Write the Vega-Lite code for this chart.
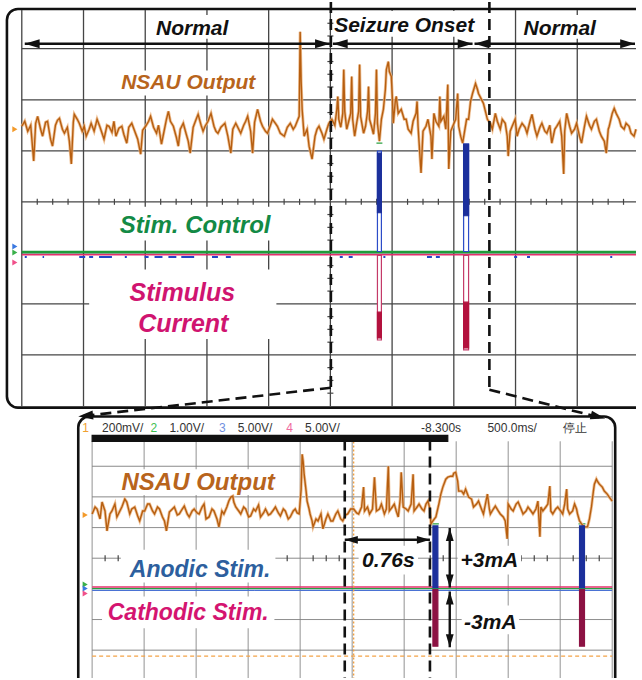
{
  "$schema": "https://vega.github.io/schema/vega-lite/v6.json",
  "width": 642,
  "height": 680,
  "padding": 0,
  "autosize": {"type": "fit", "contains": "padding"},
  "background": "white",
  "config": {"view": {"stroke": null}},
  "datasets": {
    "frames": [
      {"x": 7, "y": 7, "x2": 660, "y2": 408},
      {"x": 79, "y": 417, "x2": 621, "y2": 700}
    ],
    "segs": [
      {"x": 22, "y": 8, "x2": 22, "y2": 407, "k": "g1"},
      {"x": 84.3, "y": 8, "x2": 84.3, "y2": 407, "k": "g1"},
      {"x": 146.6, "y": 8, "x2": 146.6, "y2": 407, "k": "g1"},
      {"x": 208.9, "y": 8, "x2": 208.9, "y2": 407, "k": "g1"},
      {"x": 271.2, "y": 8, "x2": 271.2, "y2": 407, "k": "g1"},
      {"x": 333.5, "y": 8, "x2": 333.5, "y2": 407, "k": "g1"},
      {"x": 395.8, "y": 8, "x2": 395.8, "y2": 407, "k": "g1"},
      {"x": 458.1, "y": 8, "x2": 458.1, "y2": 407, "k": "g1"},
      {"x": 520.4, "y": 8, "x2": 520.4, "y2": 407, "k": "g1"},
      {"x": 582.7, "y": 8, "x2": 582.7, "y2": 407, "k": "g1"},
      {"x": 22, "y": 47, "x2": 642, "y2": 47, "k": "g1"},
      {"x": 22, "y": 98.4, "x2": 642, "y2": 98.4, "k": "g1"},
      {"x": 22, "y": 149.7, "x2": 642, "y2": 149.7, "k": "g1"},
      {"x": 22, "y": 201, "x2": 642, "y2": 201, "k": "g1"},
      {"x": 22, "y": 252.3, "x2": 642, "y2": 252.3, "k": "g1"},
      {"x": 22, "y": 303.6, "x2": 642, "y2": 303.6, "k": "g1"},
      {"x": 22, "y": 355, "x2": 642, "y2": 355, "k": "g1"},
      {"x": 93, "y": 442, "x2": 93, "y2": 680, "k": "g2"},
      {"x": 145.5, "y": 442, "x2": 145.5, "y2": 680, "k": "g2"},
      {"x": 198, "y": 442, "x2": 198, "y2": 680, "k": "g2"},
      {"x": 250.5, "y": 442, "x2": 250.5, "y2": 680, "k": "g2"},
      {"x": 303, "y": 442, "x2": 303, "y2": 680, "k": "g2"},
      {"x": 355.5, "y": 442, "x2": 355.5, "y2": 680, "k": "g2"},
      {"x": 408, "y": 442, "x2": 408, "y2": 680, "k": "g2"},
      {"x": 460.5, "y": 442, "x2": 460.5, "y2": 680, "k": "g2"},
      {"x": 513, "y": 442, "x2": 513, "y2": 680, "k": "g2"},
      {"x": 565.5, "y": 442, "x2": 565.5, "y2": 680, "k": "g2"},
      {"x": 618, "y": 442, "x2": 618, "y2": 680, "k": "g2"},
      {"x": 93, "y": 467, "x2": 618, "y2": 467, "k": "g2"},
      {"x": 93, "y": 497.8, "x2": 618, "y2": 497.8, "k": "g2"},
      {"x": 93, "y": 528.7, "x2": 618, "y2": 528.7, "k": "g2"},
      {"x": 93, "y": 559.5, "x2": 618, "y2": 559.5, "k": "g2"},
      {"x": 93, "y": 621.2, "x2": 618, "y2": 621.2, "k": "g2"},
      {"x": 93, "y": 652, "x2": 618, "y2": 652, "k": "g2"},
      {"x": 22, "y": 251.5, "x2": 642, "y2": 251.5, "k": "green"},
      {"x": 468, "y": 143, "x2": 468, "y2": 251.5, "k": "gt"},
      {"x": 380, "y": 142, "x2": 386, "y2": 142, "k": "gt"},
      {"x": 93, "y": 590, "x2": 618, "y2": 590, "k": "gt"},
      {"x": 436, "y": 525, "x2": 443, "y2": 525, "k": "gt"},
      {"x": 584, "y": 525, "x2": 591, "y2": 525, "k": "gt"},
      {"x": 22, "y": 254.3, "x2": 642, "y2": 254.3, "k": "red"},
      {"x": 93, "y": 588.4, "x2": 618, "y2": 588.4, "k": "red"},
      {"x": 93, "y": 591.8, "x2": 618, "y2": 591.8, "k": "blue"},
      {"x": 25, "y": 256.5, "x2": 27, "y2": 256.5, "k": "bs"},
      {"x": 43, "y": 256.5, "x2": 44.5, "y2": 256.5, "k": "bs"},
      {"x": 80, "y": 256.5, "x2": 86, "y2": 256.5, "k": "bs"},
      {"x": 90, "y": 256.5, "x2": 94, "y2": 256.5, "k": "bs"},
      {"x": 100, "y": 256.5, "x2": 113, "y2": 256.5, "k": "bs"},
      {"x": 126, "y": 256.5, "x2": 128, "y2": 256.5, "k": "bs"},
      {"x": 146, "y": 256.5, "x2": 150, "y2": 256.5, "k": "bs"},
      {"x": 156, "y": 256.5, "x2": 164, "y2": 256.5, "k": "bs"},
      {"x": 170, "y": 256.5, "x2": 178, "y2": 256.5, "k": "bs"},
      {"x": 183, "y": 256.5, "x2": 196, "y2": 256.5, "k": "bs"},
      {"x": 214, "y": 256.5, "x2": 220, "y2": 256.5, "k": "bs"},
      {"x": 228, "y": 256.5, "x2": 233, "y2": 256.5, "k": "bs"},
      {"x": 343, "y": 256.5, "x2": 346, "y2": 256.5, "k": "bs"},
      {"x": 352, "y": 256.5, "x2": 356, "y2": 256.5, "k": "bs"},
      {"x": 387, "y": 256.5, "x2": 389, "y2": 256.5, "k": "bs"},
      {"x": 431, "y": 256.5, "x2": 436, "y2": 256.5, "k": "bs"},
      {"x": 440, "y": 256.5, "x2": 444, "y2": 256.5, "k": "bs"},
      {"x": 519, "y": 256.5, "x2": 522, "y2": 256.5, "k": "bs"},
      {"x": 532, "y": 256.5, "x2": 535, "y2": 256.5, "k": "bs"},
      {"x": 616, "y": 256.5, "x2": 618, "y2": 256.5, "k": "bs"},
      {"x": 93, "y": 658, "x2": 618, "y2": 658, "k": "odash"},
      {"x": 357, "y": 442, "x2": 357, "y2": 680, "k": "odot"},
      {"x": 25, "y": 42, "x2": 333, "y2": 42, "k": "arrow"},
      {"x": 336, "y": 42, "x2": 477, "y2": 42, "k": "arrow"},
      {"x": 479, "y": 42, "x2": 641, "y2": 42, "k": "arrow"},
      {"x": 348, "y": 541, "x2": 434, "y2": 541, "k": "arrow"},
      {"x": 454, "y": 529, "x2": 454, "y2": 589, "k": "arrow"},
      {"x": 454, "y": 593, "x2": 454, "y2": 649, "k": "arrow"},
      {"x": 334, "y": 0, "x2": 334, "y2": 388, "k": "dash"},
      {"x": 334, "y": 388, "x2": 84, "y2": 416.5, "k": "dash"},
      {"x": 494, "y": 0, "x2": 494, "y2": 390, "k": "dash"},
      {"x": 494, "y": 390, "x2": 606, "y2": 418, "k": "dash"},
      {"x": 348, "y": 440, "x2": 348, "y2": 680, "k": "dash"},
      {"x": 434, "y": 440, "x2": 434, "y2": 680, "k": "dash"}
    ],
    "ticks": [
      {"x": 37.6, "y": 201, "o": "h"}, {"x": 53.2, "y": 201, "o": "h"}, {"x": 68.7, "y": 201, "o": "h"},
      {"x": 99.9, "y": 201, "o": "h"}, {"x": 115.5, "y": 201, "o": "h"}, {"x": 131, "y": 201, "o": "h"},
      {"x": 162.2, "y": 201, "o": "h"}, {"x": 177.8, "y": 201, "o": "h"}, {"x": 193.3, "y": 201, "o": "h"},
      {"x": 224.5, "y": 201, "o": "h"}, {"x": 240.1, "y": 201, "o": "h"}, {"x": 255.6, "y": 201, "o": "h"},
      {"x": 286.8, "y": 201, "o": "h"}, {"x": 302.4, "y": 201, "o": "h"}, {"x": 317.9, "y": 201, "o": "h"},
      {"x": 349.1, "y": 201, "o": "h"}, {"x": 364.7, "y": 201, "o": "h"}, {"x": 380.2, "y": 201, "o": "h"},
      {"x": 411.4, "y": 201, "o": "h"}, {"x": 427, "y": 201, "o": "h"}, {"x": 442.5, "y": 201, "o": "h"},
      {"x": 473.7, "y": 201, "o": "h"}, {"x": 489.3, "y": 201, "o": "h"}, {"x": 504.8, "y": 201, "o": "h"},
      {"x": 536, "y": 201, "o": "h"}, {"x": 551.6, "y": 201, "o": "h"}, {"x": 567.1, "y": 201, "o": "h"},
      {"x": 598.3, "y": 201, "o": "h"}, {"x": 613.9, "y": 201, "o": "h"}, {"x": 629.4, "y": 201, "o": "h"},
      {"x": 333.5, "y": 21.4, "o": "v"}, {"x": 333.5, "y": 34.2, "o": "v"}, {"x": 333.5, "y": 59.9, "o": "v"},
      {"x": 333.5, "y": 72.7, "o": "v"}, {"x": 333.5, "y": 85.5, "o": "v"}, {"x": 333.5, "y": 111.2, "o": "v"},
      {"x": 333.5, "y": 124, "o": "v"}, {"x": 333.5, "y": 136.9, "o": "v"}, {"x": 333.5, "y": 162.5, "o": "v"},
      {"x": 333.5, "y": 175.3, "o": "v"}, {"x": 333.5, "y": 188.2, "o": "v"}, {"x": 333.5, "y": 213.8, "o": "v"},
      {"x": 333.5, "y": 226.7, "o": "v"}, {"x": 333.5, "y": 239.5, "o": "v"}, {"x": 333.5, "y": 265.2, "o": "v"},
      {"x": 333.5, "y": 278, "o": "v"}, {"x": 333.5, "y": 290.8, "o": "v"}, {"x": 333.5, "y": 316.5, "o": "v"},
      {"x": 333.5, "y": 329.3, "o": "v"}, {"x": 333.5, "y": 342.2, "o": "v"}, {"x": 333.5, "y": 367.8, "o": "v"},
      {"x": 333.5, "y": 380.7, "o": "v"}, {"x": 333.5, "y": 393.5, "o": "v"},
      {"x": 106.1, "y": 559.5, "o": "h"}, {"x": 119.3, "y": 559.5, "o": "h"}, {"x": 132.4, "y": 559.5, "o": "h"},
      {"x": 158.6, "y": 559.5, "o": "h"}, {"x": 171.8, "y": 559.5, "o": "h"}, {"x": 184.9, "y": 559.5, "o": "h"},
      {"x": 211.1, "y": 559.5, "o": "h"}, {"x": 224.3, "y": 559.5, "o": "h"}, {"x": 237.4, "y": 559.5, "o": "h"},
      {"x": 263.6, "y": 559.5, "o": "h"}, {"x": 276.8, "y": 559.5, "o": "h"}, {"x": 289.9, "y": 559.5, "o": "h"},
      {"x": 316.1, "y": 559.5, "o": "h"}, {"x": 329.3, "y": 559.5, "o": "h"}, {"x": 342.4, "y": 559.5, "o": "h"},
      {"x": 368.6, "y": 559.5, "o": "h"}, {"x": 381.8, "y": 559.5, "o": "h"}, {"x": 394.9, "y": 559.5, "o": "h"},
      {"x": 421.1, "y": 559.5, "o": "h"}, {"x": 434.3, "y": 559.5, "o": "h"}, {"x": 447.4, "y": 559.5, "o": "h"},
      {"x": 473.6, "y": 559.5, "o": "h"}, {"x": 486.8, "y": 559.5, "o": "h"}, {"x": 499.9, "y": 559.5, "o": "h"},
      {"x": 526.1, "y": 559.5, "o": "h"}, {"x": 539.3, "y": 559.5, "o": "h"}, {"x": 552.4, "y": 559.5, "o": "h"},
      {"x": 578.6, "y": 559.5, "o": "h"}, {"x": 591.8, "y": 559.5, "o": "h"}, {"x": 604.9, "y": 559.5, "o": "h"}
    ],
    "boxes": [
      {"x": 152, "y": 13, "x2": 236, "y2": 37, "k": "white"},
      {"x": 338, "y": 9, "x2": 479, "y2": 35, "k": "white"},
      {"x": 525, "y": 13, "x2": 605, "y2": 37, "k": "white"},
      {"x": 118, "y": 69, "x2": 262, "y2": 94, "k": "white"},
      {"x": 112, "y": 206, "x2": 283, "y2": 240, "k": "white"},
      {"x": 90, "y": 269, "x2": 279, "y2": 339, "k": "white"},
      {"x": 112, "y": 470, "x2": 290, "y2": 496, "k": "white"},
      {"x": 122, "y": 551, "x2": 278, "y2": 584, "k": "white"},
      {"x": 103, "y": 598, "x2": 277, "y2": 630, "k": "white"},
      {"x": 362, "y": 547, "x2": 422, "y2": 576, "k": "white"},
      {"x": 462, "y": 547, "x2": 526, "y2": 576, "k": "white"},
      {"x": 466, "y": 607, "x2": 524, "y2": 636, "k": "white"}
    ],
    "pulses": [
      {"x": 381, "y": 150, "x2": 385, "y2": 251, "k": "outB"},
      {"x": 468, "y": 143, "x2": 473, "y2": 251, "k": "outB"},
      {"x": 381, "y": 255, "x2": 385, "y2": 340, "k": "outR"},
      {"x": 468, "y": 255, "x2": 473, "y2": 350, "k": "outR"},
      {"x": 381, "y": 152, "x2": 385, "y2": 212, "k": "fillB"},
      {"x": 468, "y": 143, "x2": 473, "y2": 215, "k": "fillB"},
      {"x": 381, "y": 312, "x2": 385, "y2": 338, "k": "fillR"},
      {"x": 468, "y": 302, "x2": 473, "y2": 348, "k": "fillR"},
      {"x": 437, "y": 527, "x2": 442, "y2": 589, "k": "fillB"},
      {"x": 585, "y": 527, "x2": 590, "y2": 589, "k": "fillB"},
      {"x": 437, "y": 591, "x2": 442, "y2": 648, "k": "fillM"},
      {"x": 585, "y": 591, "x2": 590, "y2": 648, "k": "fillM"},
      {"x": 93, "y": 436, "x2": 452, "y2": 442, "k": "bar"}
    ],
    "heads": [
      {"x": 25, "y": 42, "a": 270, "k": "a1"},
      {"x": 333, "y": 42, "a": 90, "k": "a1"},
      {"x": 336, "y": 42, "a": 270, "k": "a1"},
      {"x": 477, "y": 42, "a": 90, "k": "a1"},
      {"x": 479, "y": 42, "a": 270, "k": "a1"},
      {"x": 641, "y": 42, "a": 90, "k": "a1"},
      {"x": 79, "y": 417, "a": 264, "k": "a1"},
      {"x": 611, "y": 419, "a": 104, "k": "a1"},
      {"x": 348, "y": 541, "a": 270, "k": "a2"},
      {"x": 434, "y": 541, "a": 90, "k": "a2"},
      {"x": 454, "y": 529, "a": 0, "k": "a2"},
      {"x": 454, "y": 589, "a": 180, "k": "a2"},
      {"x": 454, "y": 593, "a": 0, "k": "a2"},
      {"x": 454, "y": 649, "a": 180, "k": "a2"}
    ],
    "grounds": [
      {"x": 15, "y": 128, "k": "o"},
      {"x": 15, "y": 246, "k": "b"},
      {"x": 15, "y": 252, "k": "g"},
      {"x": 15, "y": 262, "k": "r"},
      {"x": 86, "y": 516, "k": "o"},
      {"x": 86, "y": 586, "k": "g"},
      {"x": 86, "y": 590, "k": "b"},
      {"x": 86, "y": 595, "k": "r"}
    ],
    "trace": [
      {"s": "top", "x": 22, "y": 125}, {"s": "top", "x": 25, "y": 120}, {"s": "top", "x": 28, "y": 130}, {"s": "top", "x": 31, "y": 124},
      {"s": "top", "x": 34, "y": 160}, {"s": "top", "x": 36, "y": 122}, {"s": "top", "x": 38, "y": 115}, {"s": "top", "x": 41, "y": 128},
      {"s": "top", "x": 43, "y": 135}, {"s": "top", "x": 46, "y": 121}, {"s": "top", "x": 48, "y": 120}, {"s": "top", "x": 51, "y": 138},
      {"s": "top", "x": 53, "y": 145}, {"s": "top", "x": 56, "y": 124}, {"s": "top", "x": 58, "y": 119}, {"s": "top", "x": 60, "y": 117},
      {"s": "top", "x": 63, "y": 128}, {"s": "top", "x": 65, "y": 132}, {"s": "top", "x": 68, "y": 126}, {"s": "top", "x": 70, "y": 140},
      {"s": "top", "x": 72, "y": 163}, {"s": "top", "x": 74, "y": 121}, {"s": "top", "x": 75, "y": 113}, {"s": "top", "x": 78, "y": 118},
      {"s": "top", "x": 80, "y": 122}, {"s": "top", "x": 83, "y": 130}, {"s": "top", "x": 85, "y": 125}, {"s": "top", "x": 87, "y": 135},
      {"s": "top", "x": 90, "y": 128}, {"s": "top", "x": 92, "y": 122}, {"s": "top", "x": 95, "y": 130}, {"s": "top", "x": 98, "y": 118},
      {"s": "top", "x": 101, "y": 126}, {"s": "top", "x": 103, "y": 132}, {"s": "top", "x": 105, "y": 138}, {"s": "top", "x": 108, "y": 124},
      {"s": "top", "x": 110, "y": 125}, {"s": "top", "x": 113, "y": 131}, {"s": "top", "x": 115, "y": 120}, {"s": "top", "x": 117, "y": 135},
      {"s": "top", "x": 120, "y": 127}, {"s": "top", "x": 123, "y": 125}, {"s": "top", "x": 125, "y": 133}, {"s": "top", "x": 128, "y": 142},
      {"s": "top", "x": 130, "y": 126}, {"s": "top", "x": 133, "y": 122}, {"s": "top", "x": 136, "y": 130}, {"s": "top", "x": 139, "y": 138},
      {"s": "top", "x": 142, "y": 153}, {"s": "top", "x": 144, "y": 129}, {"s": "top", "x": 147, "y": 125}, {"s": "top", "x": 150, "y": 120},
      {"s": "top", "x": 152, "y": 115}, {"s": "top", "x": 155, "y": 126}, {"s": "top", "x": 158, "y": 132}, {"s": "top", "x": 160, "y": 124},
      {"s": "top", "x": 163, "y": 143}, {"s": "top", "x": 166, "y": 128}, {"s": "top", "x": 168, "y": 118}, {"s": "top", "x": 170, "y": 110},
      {"s": "top", "x": 172, "y": 120}, {"s": "top", "x": 175, "y": 125}, {"s": "top", "x": 178, "y": 136}, {"s": "top", "x": 180, "y": 145},
      {"s": "top", "x": 182, "y": 128}, {"s": "top", "x": 185, "y": 122}, {"s": "top", "x": 188, "y": 133}, {"s": "top", "x": 190, "y": 140},
      {"s": "top", "x": 192, "y": 152}, {"s": "top", "x": 195, "y": 126}, {"s": "top", "x": 198, "y": 118}, {"s": "top", "x": 200, "y": 113},
      {"s": "top", "x": 203, "y": 124}, {"s": "top", "x": 205, "y": 130}, {"s": "top", "x": 207, "y": 125}, {"s": "top", "x": 210, "y": 120},
      {"s": "top", "x": 213, "y": 112}, {"s": "top", "x": 216, "y": 125}, {"s": "top", "x": 218, "y": 130}, {"s": "top", "x": 220, "y": 132},
      {"s": "top", "x": 223, "y": 126}, {"s": "top", "x": 227, "y": 122}, {"s": "top", "x": 230, "y": 135}, {"s": "top", "x": 233, "y": 152},
      {"s": "top", "x": 235, "y": 128}, {"s": "top", "x": 238, "y": 122}, {"s": "top", "x": 241, "y": 128}, {"s": "top", "x": 243, "y": 132},
      {"s": "top", "x": 246, "y": 124}, {"s": "top", "x": 248, "y": 120}, {"s": "top", "x": 250, "y": 115}, {"s": "top", "x": 253, "y": 130},
      {"s": "top", "x": 255, "y": 152}, {"s": "top", "x": 257, "y": 121}, {"s": "top", "x": 260, "y": 108}, {"s": "top", "x": 263, "y": 120},
      {"s": "top", "x": 265, "y": 125}, {"s": "top", "x": 268, "y": 130}, {"s": "top", "x": 270, "y": 132}, {"s": "top", "x": 273, "y": 124},
      {"s": "top", "x": 275, "y": 118}, {"s": "top", "x": 278, "y": 122}, {"s": "top", "x": 280, "y": 125}, {"s": "top", "x": 283, "y": 132},
      {"s": "top", "x": 287, "y": 135}, {"s": "top", "x": 290, "y": 126}, {"s": "top", "x": 293, "y": 122}, {"s": "top", "x": 296, "y": 128},
      {"s": "top", "x": 298, "y": 125}, {"s": "top", "x": 300, "y": 120}, {"s": "top", "x": 302, "y": 115}, {"s": "top", "x": 303, "y": 30},
      {"s": "top", "x": 304, "y": 80}, {"s": "top", "x": 305, "y": 108}, {"s": "top", "x": 307, "y": 135}, {"s": "top", "x": 310, "y": 128},
      {"s": "top", "x": 312, "y": 145}, {"s": "top", "x": 315, "y": 158}, {"s": "top", "x": 318, "y": 135}, {"s": "top", "x": 320, "y": 128},
      {"s": "top", "x": 322, "y": 125}, {"s": "top", "x": 325, "y": 132}, {"s": "top", "x": 327, "y": 138}, {"s": "top", "x": 330, "y": 128},
      {"s": "top", "x": 332, "y": 122}, {"s": "top", "x": 335, "y": 118}, {"s": "top", "x": 338, "y": 124}, {"s": "top", "x": 340, "y": 108},
      {"s": "top", "x": 341, "y": 95}, {"s": "top", "x": 342, "y": 118}, {"s": "top", "x": 344, "y": 126}, {"s": "top", "x": 346, "y": 112},
      {"s": "top", "x": 347, "y": 68}, {"s": "top", "x": 348, "y": 110}, {"s": "top", "x": 350, "y": 128}, {"s": "top", "x": 352, "y": 120},
      {"s": "top", "x": 354, "y": 112}, {"s": "top", "x": 355, "y": 75}, {"s": "top", "x": 356, "y": 118}, {"s": "top", "x": 358, "y": 135},
      {"s": "top", "x": 360, "y": 122}, {"s": "top", "x": 362, "y": 110}, {"s": "top", "x": 363, "y": 63}, {"s": "top", "x": 364, "y": 115},
      {"s": "top", "x": 367, "y": 132}, {"s": "top", "x": 369, "y": 125}, {"s": "top", "x": 371, "y": 110}, {"s": "top", "x": 372, "y": 85},
      {"s": "top", "x": 373, "y": 118}, {"s": "top", "x": 375, "y": 125}, {"s": "top", "x": 377, "y": 133}, {"s": "top", "x": 379, "y": 112},
      {"s": "top", "x": 380, "y": 68}, {"s": "top", "x": 381, "y": 122}, {"s": "top", "x": 383, "y": 140}, {"s": "top", "x": 385, "y": 118},
      {"s": "top", "x": 387, "y": 108}, {"s": "top", "x": 389, "y": 88}, {"s": "top", "x": 390, "y": 68}, {"s": "top", "x": 392, "y": 60},
      {"s": "top", "x": 393, "y": 70}, {"s": "top", "x": 395, "y": 75}, {"s": "top", "x": 396, "y": 95}, {"s": "top", "x": 397, "y": 122},
      {"s": "top", "x": 399, "y": 100}, {"s": "top", "x": 400, "y": 95}, {"s": "top", "x": 402, "y": 112}, {"s": "top", "x": 405, "y": 108},
      {"s": "top", "x": 408, "y": 118}, {"s": "top", "x": 410, "y": 118}, {"s": "top", "x": 412, "y": 128}, {"s": "top", "x": 415, "y": 132},
      {"s": "top", "x": 417, "y": 120}, {"s": "top", "x": 420, "y": 112}, {"s": "top", "x": 421, "y": 100}, {"s": "top", "x": 422, "y": 125},
      {"s": "top", "x": 425, "y": 172}, {"s": "top", "x": 427, "y": 130}, {"s": "top", "x": 430, "y": 125}, {"s": "top", "x": 432, "y": 118},
      {"s": "top", "x": 435, "y": 135}, {"s": "top", "x": 436, "y": 158}, {"s": "top", "x": 438, "y": 112}, {"s": "top", "x": 440, "y": 120},
      {"s": "top", "x": 443, "y": 125}, {"s": "top", "x": 444, "y": 95}, {"s": "top", "x": 445, "y": 120}, {"s": "top", "x": 448, "y": 115},
      {"s": "top", "x": 450, "y": 128}, {"s": "top", "x": 452, "y": 83}, {"s": "top", "x": 453, "y": 168}, {"s": "top", "x": 455, "y": 130},
      {"s": "top", "x": 457, "y": 125}, {"s": "top", "x": 460, "y": 118}, {"s": "top", "x": 462, "y": 92}, {"s": "top", "x": 463, "y": 125},
      {"s": "top", "x": 465, "y": 135}, {"s": "top", "x": 467, "y": 142}, {"s": "top", "x": 469, "y": 130}, {"s": "top", "x": 471, "y": 118},
      {"s": "top", "x": 473, "y": 118}, {"s": "top", "x": 475, "y": 100}, {"s": "top", "x": 477, "y": 92}, {"s": "top", "x": 480, "y": 82},
      {"s": "top", "x": 482, "y": 88}, {"s": "top", "x": 483, "y": 92}, {"s": "top", "x": 486, "y": 98}, {"s": "top", "x": 488, "y": 102},
      {"s": "top", "x": 490, "y": 110}, {"s": "top", "x": 492, "y": 118}, {"s": "top", "x": 495, "y": 122}, {"s": "top", "x": 497, "y": 128},
      {"s": "top", "x": 500, "y": 112}, {"s": "top", "x": 502, "y": 120}, {"s": "top", "x": 505, "y": 128}, {"s": "top", "x": 507, "y": 118},
      {"s": "top", "x": 510, "y": 122}, {"s": "top", "x": 512, "y": 135}, {"s": "top", "x": 513, "y": 155}, {"s": "top", "x": 515, "y": 130},
      {"s": "top", "x": 517, "y": 125}, {"s": "top", "x": 520, "y": 118}, {"s": "top", "x": 522, "y": 135}, {"s": "top", "x": 524, "y": 128},
      {"s": "top", "x": 527, "y": 122}, {"s": "top", "x": 530, "y": 126}, {"s": "top", "x": 532, "y": 132}, {"s": "top", "x": 535, "y": 120},
      {"s": "top", "x": 537, "y": 113}, {"s": "top", "x": 540, "y": 128}, {"s": "top", "x": 542, "y": 135}, {"s": "top", "x": 545, "y": 126},
      {"s": "top", "x": 547, "y": 122}, {"s": "top", "x": 550, "y": 130}, {"s": "top", "x": 552, "y": 132}, {"s": "top", "x": 555, "y": 124},
      {"s": "top", "x": 557, "y": 142}, {"s": "top", "x": 560, "y": 128}, {"s": "top", "x": 562, "y": 125}, {"s": "top", "x": 565, "y": 120},
      {"s": "top", "x": 567, "y": 135}, {"s": "top", "x": 569, "y": 173}, {"s": "top", "x": 570, "y": 130}, {"s": "top", "x": 572, "y": 112},
      {"s": "top", "x": 575, "y": 125}, {"s": "top", "x": 577, "y": 132}, {"s": "top", "x": 580, "y": 128}, {"s": "top", "x": 582, "y": 122},
      {"s": "top", "x": 585, "y": 135}, {"s": "top", "x": 587, "y": 142}, {"s": "top", "x": 590, "y": 125}, {"s": "top", "x": 592, "y": 115},
      {"s": "top", "x": 595, "y": 124}, {"s": "top", "x": 597, "y": 128}, {"s": "top", "x": 600, "y": 120}, {"s": "top", "x": 602, "y": 118},
      {"s": "top", "x": 605, "y": 130}, {"s": "top", "x": 607, "y": 135}, {"s": "top", "x": 610, "y": 140}, {"s": "top", "x": 612, "y": 152},
      {"s": "top", "x": 614, "y": 128}, {"s": "top", "x": 615, "y": 125}, {"s": "top", "x": 618, "y": 112}, {"s": "top", "x": 620, "y": 107},
      {"s": "top", "x": 622, "y": 112}, {"s": "top", "x": 625, "y": 118}, {"s": "top", "x": 627, "y": 125}, {"s": "top", "x": 630, "y": 128},
      {"s": "top", "x": 632, "y": 122}, {"s": "top", "x": 635, "y": 125}, {"s": "top", "x": 637, "y": 132}, {"s": "top", "x": 640, "y": 135},
      {"s": "top", "x": 642, "y": 128},
      {"s": "bot", "x": 93, "y": 515}, {"s": "bot", "x": 96, "y": 508}, {"s": "bot", "x": 98, "y": 510}, {"s": "bot", "x": 101, "y": 520},
      {"s": "bot", "x": 103, "y": 503}, {"s": "bot", "x": 106, "y": 512}, {"s": "bot", "x": 108, "y": 532}, {"s": "bot", "x": 111, "y": 515},
      {"s": "bot", "x": 113, "y": 512}, {"s": "bot", "x": 116, "y": 505}, {"s": "bot", "x": 118, "y": 518}, {"s": "bot", "x": 121, "y": 512},
      {"s": "bot", "x": 123, "y": 508}, {"s": "bot", "x": 126, "y": 500}, {"s": "bot", "x": 128, "y": 503}, {"s": "bot", "x": 131, "y": 515},
      {"s": "bot", "x": 133, "y": 510}, {"s": "bot", "x": 136, "y": 508}, {"s": "bot", "x": 139, "y": 517}, {"s": "bot", "x": 141, "y": 522},
      {"s": "bot", "x": 144, "y": 512}, {"s": "bot", "x": 146, "y": 512}, {"s": "bot", "x": 149, "y": 505}, {"s": "bot", "x": 151, "y": 505},
      {"s": "bot", "x": 154, "y": 512}, {"s": "bot", "x": 156, "y": 515}, {"s": "bot", "x": 159, "y": 508}, {"s": "bot", "x": 161, "y": 510},
      {"s": "bot", "x": 164, "y": 518}, {"s": "bot", "x": 166, "y": 522}, {"s": "bot", "x": 168, "y": 532}, {"s": "bot", "x": 171, "y": 513},
      {"s": "bot", "x": 174, "y": 510}, {"s": "bot", "x": 176, "y": 508}, {"s": "bot", "x": 179, "y": 516}, {"s": "bot", "x": 181, "y": 515},
      {"s": "bot", "x": 184, "y": 510}, {"s": "bot", "x": 186, "y": 507}, {"s": "bot", "x": 189, "y": 515}, {"s": "bot", "x": 191, "y": 518},
      {"s": "bot", "x": 194, "y": 512}, {"s": "bot", "x": 196, "y": 510}, {"s": "bot", "x": 199, "y": 514}, {"s": "bot", "x": 201, "y": 515},
      {"s": "bot", "x": 204, "y": 508}, {"s": "bot", "x": 206, "y": 505}, {"s": "bot", "x": 208, "y": 520}, {"s": "bot", "x": 211, "y": 518},
      {"s": "bot", "x": 214, "y": 510}, {"s": "bot", "x": 216, "y": 512}, {"s": "bot", "x": 219, "y": 520}, {"s": "bot", "x": 221, "y": 528},
      {"s": "bot", "x": 224, "y": 512}, {"s": "bot", "x": 226, "y": 515}, {"s": "bot", "x": 229, "y": 508}, {"s": "bot", "x": 231, "y": 502},
      {"s": "bot", "x": 233, "y": 498}, {"s": "bot", "x": 235, "y": 497}, {"s": "bot", "x": 236, "y": 503}, {"s": "bot", "x": 238, "y": 508},
      {"s": "bot", "x": 241, "y": 512}, {"s": "bot", "x": 243, "y": 515}, {"s": "bot", "x": 246, "y": 508}, {"s": "bot", "x": 248, "y": 510},
      {"s": "bot", "x": 251, "y": 518}, {"s": "bot", "x": 253, "y": 517}, {"s": "bot", "x": 256, "y": 510}, {"s": "bot", "x": 258, "y": 512},
      {"s": "bot", "x": 261, "y": 506}, {"s": "bot", "x": 263, "y": 518}, {"s": "bot", "x": 266, "y": 514}, {"s": "bot", "x": 268, "y": 510},
      {"s": "bot", "x": 271, "y": 516}, {"s": "bot", "x": 273, "y": 515}, {"s": "bot", "x": 276, "y": 511}, {"s": "bot", "x": 278, "y": 508},
      {"s": "bot", "x": 281, "y": 514}, {"s": "bot", "x": 283, "y": 517}, {"s": "bot", "x": 286, "y": 510}, {"s": "bot", "x": 288, "y": 512},
      {"s": "bot", "x": 291, "y": 520}, {"s": "bot", "x": 293, "y": 518}, {"s": "bot", "x": 296, "y": 512}, {"s": "bot", "x": 298, "y": 510},
      {"s": "bot", "x": 300, "y": 514}, {"s": "bot", "x": 302, "y": 515}, {"s": "bot", "x": 304, "y": 490}, {"s": "bot", "x": 305, "y": 455},
      {"s": "bot", "x": 306, "y": 462}, {"s": "bot", "x": 307, "y": 475}, {"s": "bot", "x": 309, "y": 492}, {"s": "bot", "x": 310, "y": 502},
      {"s": "bot", "x": 312, "y": 510}, {"s": "bot", "x": 313, "y": 515}, {"s": "bot", "x": 315, "y": 522}, {"s": "bot", "x": 316, "y": 528},
      {"s": "bot", "x": 319, "y": 520}, {"s": "bot", "x": 321, "y": 522}, {"s": "bot", "x": 324, "y": 515}, {"s": "bot", "x": 326, "y": 530},
      {"s": "bot", "x": 329, "y": 520}, {"s": "bot", "x": 331, "y": 515}, {"s": "bot", "x": 334, "y": 522}, {"s": "bot", "x": 336, "y": 522},
      {"s": "bot", "x": 339, "y": 515}, {"s": "bot", "x": 341, "y": 512}, {"s": "bot", "x": 344, "y": 520}, {"s": "bot", "x": 346, "y": 522},
      {"s": "bot", "x": 349, "y": 516}, {"s": "bot", "x": 351, "y": 515}, {"s": "bot", "x": 354, "y": 510}, {"s": "bot", "x": 357, "y": 510},
      {"s": "bot", "x": 360, "y": 514}, {"s": "bot", "x": 362, "y": 515}, {"s": "bot", "x": 365, "y": 508}, {"s": "bot", "x": 367, "y": 488},
      {"s": "bot", "x": 368, "y": 512}, {"s": "bot", "x": 371, "y": 508}, {"s": "bot", "x": 373, "y": 515}, {"s": "bot", "x": 376, "y": 510},
      {"s": "bot", "x": 378, "y": 478}, {"s": "bot", "x": 380, "y": 512}, {"s": "bot", "x": 383, "y": 510}, {"s": "bot", "x": 385, "y": 505},
      {"s": "bot", "x": 388, "y": 515}, {"s": "bot", "x": 390, "y": 510}, {"s": "bot", "x": 392, "y": 467}, {"s": "bot", "x": 393, "y": 512},
      {"s": "bot", "x": 396, "y": 508}, {"s": "bot", "x": 398, "y": 505}, {"s": "bot", "x": 400, "y": 512}, {"s": "bot", "x": 402, "y": 518},
      {"s": "bot", "x": 404, "y": 500}, {"s": "bot", "x": 405, "y": 473}, {"s": "bot", "x": 407, "y": 508}, {"s": "bot", "x": 410, "y": 510},
      {"s": "bot", "x": 412, "y": 512}, {"s": "bot", "x": 415, "y": 505}, {"s": "bot", "x": 417, "y": 475}, {"s": "bot", "x": 418, "y": 512},
      {"s": "bot", "x": 421, "y": 508}, {"s": "bot", "x": 423, "y": 505}, {"s": "bot", "x": 426, "y": 510}, {"s": "bot", "x": 428, "y": 512},
      {"s": "bot", "x": 430, "y": 505}, {"s": "bot", "x": 432, "y": 502}, {"s": "bot", "x": 434, "y": 510}, {"s": "bot", "x": 435, "y": 525},
      {"s": "bot", "x": 437, "y": 522}, {"s": "bot", "x": 440, "y": 518}, {"s": "bot", "x": 443, "y": 505}, {"s": "bot", "x": 445, "y": 495},
      {"s": "bot", "x": 447, "y": 488}, {"s": "bot", "x": 450, "y": 480}, {"s": "bot", "x": 452, "y": 478}, {"s": "bot", "x": 455, "y": 477},
      {"s": "bot", "x": 457, "y": 477}, {"s": "bot", "x": 458, "y": 474}, {"s": "bot", "x": 460, "y": 473}, {"s": "bot", "x": 462, "y": 482},
      {"s": "bot", "x": 463, "y": 492}, {"s": "bot", "x": 466, "y": 492}, {"s": "bot", "x": 468, "y": 495}, {"s": "bot", "x": 470, "y": 490},
      {"s": "bot", "x": 473, "y": 498}, {"s": "bot", "x": 476, "y": 500}, {"s": "bot", "x": 478, "y": 508}, {"s": "bot", "x": 481, "y": 505},
      {"s": "bot", "x": 483, "y": 502}, {"s": "bot", "x": 486, "y": 510}, {"s": "bot", "x": 488, "y": 515}, {"s": "bot", "x": 490, "y": 505},
      {"s": "bot", "x": 492, "y": 495}, {"s": "bot", "x": 494, "y": 510}, {"s": "bot", "x": 495, "y": 515}, {"s": "bot", "x": 498, "y": 510},
      {"s": "bot", "x": 500, "y": 507}, {"s": "bot", "x": 503, "y": 512}, {"s": "bot", "x": 505, "y": 515}, {"s": "bot", "x": 508, "y": 518},
      {"s": "bot", "x": 510, "y": 522}, {"s": "bot", "x": 512, "y": 540}, {"s": "bot", "x": 513, "y": 505}, {"s": "bot", "x": 516, "y": 510},
      {"s": "bot", "x": 518, "y": 512}, {"s": "bot", "x": 521, "y": 505}, {"s": "bot", "x": 523, "y": 503}, {"s": "bot", "x": 526, "y": 510},
      {"s": "bot", "x": 528, "y": 515}, {"s": "bot", "x": 531, "y": 512}, {"s": "bot", "x": 533, "y": 508}, {"s": "bot", "x": 536, "y": 512},
      {"s": "bot", "x": 538, "y": 515}, {"s": "bot", "x": 541, "y": 510}, {"s": "bot", "x": 543, "y": 502}, {"s": "bot", "x": 545, "y": 538},
      {"s": "bot", "x": 546, "y": 508}, {"s": "bot", "x": 548, "y": 512}, {"s": "bot", "x": 551, "y": 508}, {"s": "bot", "x": 553, "y": 505},
      {"s": "bot", "x": 555, "y": 487}, {"s": "bot", "x": 556, "y": 512}, {"s": "bot", "x": 558, "y": 515}, {"s": "bot", "x": 561, "y": 510},
      {"s": "bot", "x": 563, "y": 508}, {"s": "bot", "x": 566, "y": 512}, {"s": "bot", "x": 568, "y": 515}, {"s": "bot", "x": 570, "y": 505},
      {"s": "bot", "x": 572, "y": 490}, {"s": "bot", "x": 573, "y": 510}, {"s": "bot", "x": 575, "y": 515}, {"s": "bot", "x": 578, "y": 512},
      {"s": "bot", "x": 580, "y": 505}, {"s": "bot", "x": 582, "y": 510}, {"s": "bot", "x": 583, "y": 515}, {"s": "bot", "x": 585, "y": 522},
      {"s": "bot", "x": 587, "y": 525}, {"s": "bot", "x": 590, "y": 528}, {"s": "bot", "x": 593, "y": 528}, {"s": "bot", "x": 595, "y": 520},
      {"s": "bot", "x": 597, "y": 508}, {"s": "bot", "x": 599, "y": 492}, {"s": "bot", "x": 600, "y": 485}, {"s": "bot", "x": 602, "y": 480},
      {"s": "bot", "x": 603, "y": 482}, {"s": "bot", "x": 605, "y": 485}, {"s": "bot", "x": 608, "y": 488}, {"s": "bot", "x": 610, "y": 492},
      {"s": "bot", "x": 613, "y": 495}, {"s": "bot", "x": 615, "y": 498}, {"s": "bot", "x": 618, "y": 502}
    ],
    "labels": [
      {"x": 194, "y": 33, "t": "Normal", "k": "title"},
      {"x": 408, "y": 30, "t": "Seizure Onset", "k": "title"},
      {"x": 565, "y": 33, "t": "Normal", "k": "title"},
      {"x": 190, "y": 88, "t": "NSAU Output", "k": "nsau"},
      {"x": 197, "y": 232, "t": "Stim. Control", "k": "ctrl"},
      {"x": 184, "y": 301, "t": "Stimulus", "k": "stim"},
      {"x": 185, "y": 332, "t": "Current", "k": "stim"},
      {"x": 200, "y": 491, "t": "NSAU Output", "k": "nsau2"},
      {"x": 202, "y": 578, "t": "Anodic Stim.", "k": "anod"},
      {"x": 190, "y": 622, "t": "Cathodic Stim.", "k": "cath"},
      {"x": 392, "y": 568, "t": "0.76s", "k": "meas"},
      {"x": 494, "y": 568, "t": "+3mA", "k": "meas"},
      {"x": 495, "y": 631, "t": "-3mA", "k": "meas"}
    ],
    "header": [
      {"x": 83, "y": 429, "t": "1", "k": "o"},
      {"x": 103, "y": 429, "t": "200mV/", "k": "n"},
      {"x": 152, "y": 429, "t": "2", "k": "g"},
      {"x": 171, "y": 429, "t": "1.00V/", "k": "n"},
      {"x": 221, "y": 429, "t": "3", "k": "b"},
      {"x": 240, "y": 429, "t": "5.00V/", "k": "n"},
      {"x": 289, "y": 429, "t": "4", "k": "p"},
      {"x": 308, "y": 429, "t": "5.00V/", "k": "n"},
      {"x": 425, "y": 429, "t": "-8.300s", "k": "n"},
      {"x": 492, "y": 429, "t": "500.0ms/", "k": "n"},
      {"x": 568, "y": 429, "t": "停止", "k": "n"}
    ]
  },
  "encoding": {
    "x": {"field": "x", "type": "quantitative", "scale": {"domain": [0, 642], "nice": false, "zero": false}, "axis": null},
    "y": {"field": "y", "type": "quantitative", "scale": {"domain": [0, 680], "nice": false, "zero": false, "reverse": true}, "axis": null}
  },
  "layer": [
    {
      "data": {"name": "frames"},
      "mark": {"type": "rect", "fill": "white", "stroke": "#111111", "strokeWidth": 2.6, "cornerRadius": 11, "clip": true},
      "encoding": {
        "x2": {"field": "x2"},
        "y2": {"field": "y2"}
      }
    },
    {
      "data": {"name": "segs"},
      "transform": [{"filter": {"field": "k", "oneOf": ["g1", "g2", "green", "gt", "red", "blue", "bs", "odash", "odot"]}}],
      "mark": {"type": "rule"},
      "encoding": {
        "x2": {"field": "x2"},
        "y2": {"field": "y2"},
        "color": {"field": "k", "type": "nominal", "legend": null,
          "scale": {"domain": ["g1", "g2", "green", "gt", "red", "blue", "bs", "odash", "odot"],
                    "range": ["#454545", "#808080", "#1f9c3a", "#2aa040", "#e2306c", "#4a72d4", "#2346c8", "#f4a347", "#f0a040"]}},
        "strokeWidth": {"field": "k", "type": "nominal", "legend": null,
          "scale": {"type": "ordinal", "domain": ["g1", "g2", "green", "gt", "red", "blue", "bs", "odash", "odot"],
                    "range": [1.3, 1, 2.6, 1.3, 1.6, 1.3, 2, 1.2, 1.3]}},
        "strokeDash": {"field": "k", "type": "nominal", "legend": null,
          "scale": {"domain": ["g1", "g2", "green", "gt", "red", "blue", "bs", "odash", "odot"],
                    "range": [[1, 0], [1, 0], [1, 0], [1, 0], [1, 0], [1, 0], [1, 0], [4, 3], [2, 2]]}}
      }
    },
    {
      "data": {"name": "ticks"},
      "mark": {"type": "point", "shape": "stroke", "size": 36, "color": "#454545", "strokeWidth": 1.2, "opacity": 1},
      "encoding": {
        "angle": {"field": "o", "type": "nominal", "legend": null,
          "scale": {"type": "ordinal", "domain": ["h", "v"], "range": [90, 0]}}
      }
    },
    {
      "data": {"name": "boxes"},
      "mark": {"type": "rect", "fill": "white", "strokeWidth": 0},
      "encoding": {
        "x2": {"field": "x2"},
        "y2": {"field": "y2"}
      }
    },
    {
      "data": {"name": "trace"},
      "mark": {"type": "line", "color": "#ebb583", "strokeWidth": 3, "opacity": 0.85},
      "encoding": {"detail": {"field": "s"}}
    },
    {
      "data": {"name": "trace"},
      "mark": {"type": "line", "color": "#b65e10", "strokeWidth": 1.4},
      "encoding": {"detail": {"field": "s"}}
    },
    {
      "data": {"name": "pulses"},
      "mark": {"type": "rect", "strokeWidth": 1.2},
      "encoding": {
        "x2": {"field": "x2"},
        "y2": {"field": "y2"},
        "fill": {"field": "k", "type": "nominal", "legend": null,
          "scale": {"domain": ["outB", "outR", "fillB", "fillR", "fillM", "bar"],
                    "range": ["white", "white", "#1c309c", "#b3123e", "#8c1243", "#111111"]}},
        "stroke": {"field": "k", "type": "nominal", "legend": null,
          "scale": {"domain": ["outB", "outR", "fillB", "fillR", "fillM", "bar"],
                    "range": ["#2c4cc8", "#c43a68", "#1c309c", "#b3123e", "#8c1243", "#111111"]}}
      }
    },
    {
      "data": {"name": "segs"},
      "transform": [{"filter": {"field": "k", "oneOf": ["arrow", "dash"]}}],
      "mark": {"type": "rule", "color": "#111111"},
      "encoding": {
        "x2": {"field": "x2"},
        "y2": {"field": "y2"},
        "strokeWidth": {"field": "k", "type": "nominal", "legend": null,
          "scale": {"type": "ordinal", "domain": ["arrow", "dash"], "range": [2.4, 2.6]}},
        "strokeDash": {"field": "k", "type": "nominal", "legend": null,
          "scale": {"domain": ["arrow", "dash"], "range": [[1, 0], [11, 6]]}}
      }
    },
    {
      "data": {"name": "heads"},
      "mark": {"type": "point", "shape": "M0,0L0.6,2L-0.6,2Z", "filled": true, "color": "#111111", "opacity": 1},
      "encoding": {
        "angle": {"field": "a", "type": "quantitative", "scale": null},
        "size": {"field": "k", "type": "nominal", "legend": null,
          "scale": {"type": "ordinal", "domain": ["a1", "a2"], "range": [220, 170]}}
      }
    },
    {
      "data": {"name": "grounds"},
      "mark": {"type": "point", "shape": "triangle-right", "filled": true, "size": 35, "opacity": 1},
      "encoding": {
        "color": {"field": "k", "type": "nominal", "legend": null,
          "scale": {"domain": ["o", "b", "g", "r"], "range": ["#f39a2a", "#3a78e0", "#3ab04a", "#f0508a"]}}
      }
    },
    {
      "data": {"name": "header"},
      "mark": {"type": "text", "align": "left", "baseline": "middle", "font": "Liberation Sans", "fontSize": 12},
      "encoding": {
        "text": {"field": "t"},
        "color": {"field": "k", "type": "nominal", "legend": null,
          "scale": {"domain": ["o", "g", "b", "p", "n"], "range": ["#f0a030", "#40c050", "#7090e0", "#f06aa0", "#333333"]}}
      }
    },
    {
      "data": {"name": "labels"},
      "mark": {"type": "text", "align": "center", "baseline": "alphabetic", "font": "Liberation Sans", "fontWeight": "bold", "fontStyle": "italic"},
      "encoding": {
        "text": {"field": "t"},
        "color": {"field": "k", "type": "nominal", "legend": null,
          "scale": {"domain": ["title", "nsau", "ctrl", "stim", "nsau2", "anod", "cath", "meas"],
                    "range": ["#111111", "#b8641c", "#138a45", "#d01470", "#b8641c", "#2d5f9e", "#d41470", "#111111"]}},
        "size": {"field": "k", "type": "nominal", "legend": null,
          "scale": {"type": "ordinal", "domain": ["title", "nsau", "ctrl", "stim", "nsau2", "anod", "cath", "meas"],
                    "range": [21, 21, 24, 25, 24, 23, 23, 21]}}
      }
    }
  ],
  "resolve": {"scale": {"color": "independent", "fill": "independent", "stroke": "independent", "strokeWidth": "independent", "strokeDash": "independent", "size": "independent", "angle": "independent"}}
}
